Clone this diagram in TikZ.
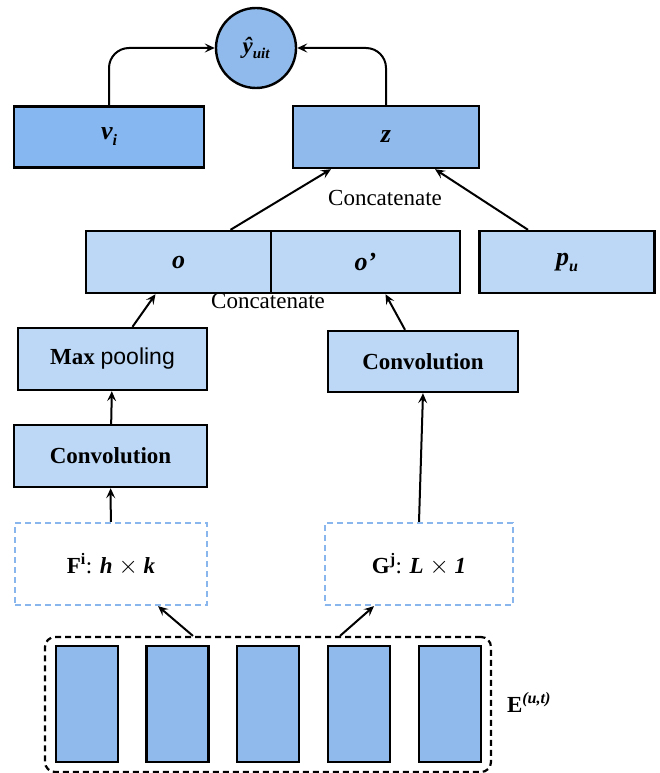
\documentclass[tikz,border=0pt]{standalone}
\usepackage{fontspec}
\setmainfont{Liberation Serif}
\newfontfamily\helv{Liberation Sans}
\usepackage{tikz}
\usetikzlibrary{positioning, arrows.meta}
\usepackage{xcolor}

\definecolor{vblue}{HTML}{86B7F0}
\definecolor{midblue}{HTML}{8FBAEB}
\definecolor{lightblue}{HTML}{BCD8F6}
\definecolor{dashblue}{HTML}{8AB6EE}

\newcommand{\bi}[1]{{\bfseries\itshape #1}}
\newcommand{\biglabel}[1]{{\fontsize{26}{28}\selectfont\bfseries\itshape #1}}
\newcommand{\low}[1]{\raisebox{-6pt}{\fontsize{16}{16}\selectfont\bfseries\itshape #1}}

\begin{document}
\begin{tikzpicture}[x=1pt,y=-1pt,->,>={Stealth[length=10pt,width=9pt,inset=4pt]},line width=2pt,
    font=\fontsize{23}{27}\selectfont,
    box/.style={draw,rectangle,line width=2.4pt,inner sep=0pt},
    dashbox/.style={draw=dashblue,dash pattern=on 6pt off 4pt,line width=2.2pt,inner sep=0pt},
    emb/.style={draw,rectangle,fill=midblue,line width=2.4pt,minimum width=62pt,minimum height=116pt}]
      \useasboundingbox (0,0) rectangle (659,773);

      \node[draw,circle,fill=midblue,line width=2.4pt,minimum size=80pt,inner sep=0pt] (y) at (256,48) {\bi{\^y}\raisebox{-5pt}{\fontsize{15}{15}\selectfont\bi{uit}}};
      \node[box,fill=vblue,minimum width=190pt,minimum height=61pt] (vi) at (109,137) {\biglabel{v}\low{i}};
      \node[box,fill=midblue,minimum width=186pt,minimum height=62pt] (z) at (386,137) {\biglabel{z}};

      \node[box,fill=lightblue,minimum width=185pt,minimum height=62pt] (o) at (178.5,262) {\biglabel{o}};
      \node[box,fill=lightblue,minimum width=189pt,minimum height=62pt] (op) at (365.5,262) {\biglabel{o’}};
      \node[box,fill=lightblue,minimum width=175pt,minimum height=62pt] (pu) at (567,262) {\biglabel{p}\low{u}};

      \node[box,fill=lightblue,minimum width=189pt,minimum height=62pt] (pool) at (112.5,359) {\bfseries Max {\helv\mdseries pooling}};
      \node[box,fill=lightblue,minimum width=193pt,minimum height=62pt] (convl) at (110.5,456) {\bfseries Convolution};
      \node[box,fill=lightblue,minimum width=190pt,minimum height=61pt] (convr) at (423,361.5) {\bfseries Convolution};

      \node[dashbox,minimum width=192pt,minimum height=82pt] (F) at (111,564) {\textbf{F\textsuperscript{i}}: \bi{h} $\times$ \bi{k}};
      \node[dashbox,minimum width=188pt,minimum height=82pt] (G) at (419,564) {\textbf{G\textsuperscript{j}}: \bi{L} $\times$ \bi{1}};

      \node[draw,dash pattern=on 6pt off 4pt,rounded corners=10pt,line width=2.2pt,minimum width=446pt,minimum height=135pt] (E) at (268,704.5) {};
      \foreach \x [count=\i] in {87,177.5,268,359,450}
        \node[emb] (e\i) at (\x,704) {};
      \node (elabel) at (529,702) {\textbf{E}\textsuperscript{\bi{(u,t)}}};

      \node (cat1) at (385,198) {Concatenate};
      \node (cat2) at (268,301) {Concatenate};

      \draw[rounded corners=20pt] (vi.north) |- (y.west);
      \draw[rounded corners=20pt] (z.north) |- (y.east);
      \draw ([xshift=52pt]o.north) -- ([xshift=-55pt]z.south);
      \draw ([xshift=-39pt]pu.north) -- ([xshift=49pt]z.south);
      \draw ([xshift=20pt]pool.north) -- ([xshift=-23pt]o.south);
      \draw ([xshift=-18pt]convr.north) -- ([xshift=20pt]op.south);
      \draw (convl) -- (pool);
      \draw (F) -- (convl);
      \draw (G.north) -- (convr.south);
      \draw ([xshift=-75pt]E.north) -- ([xshift=47pt]F.south);
      \draw ([xshift=72pt]E.north) -- ([xshift=-45pt]G.south);
\end{tikzpicture}
\end{document}
